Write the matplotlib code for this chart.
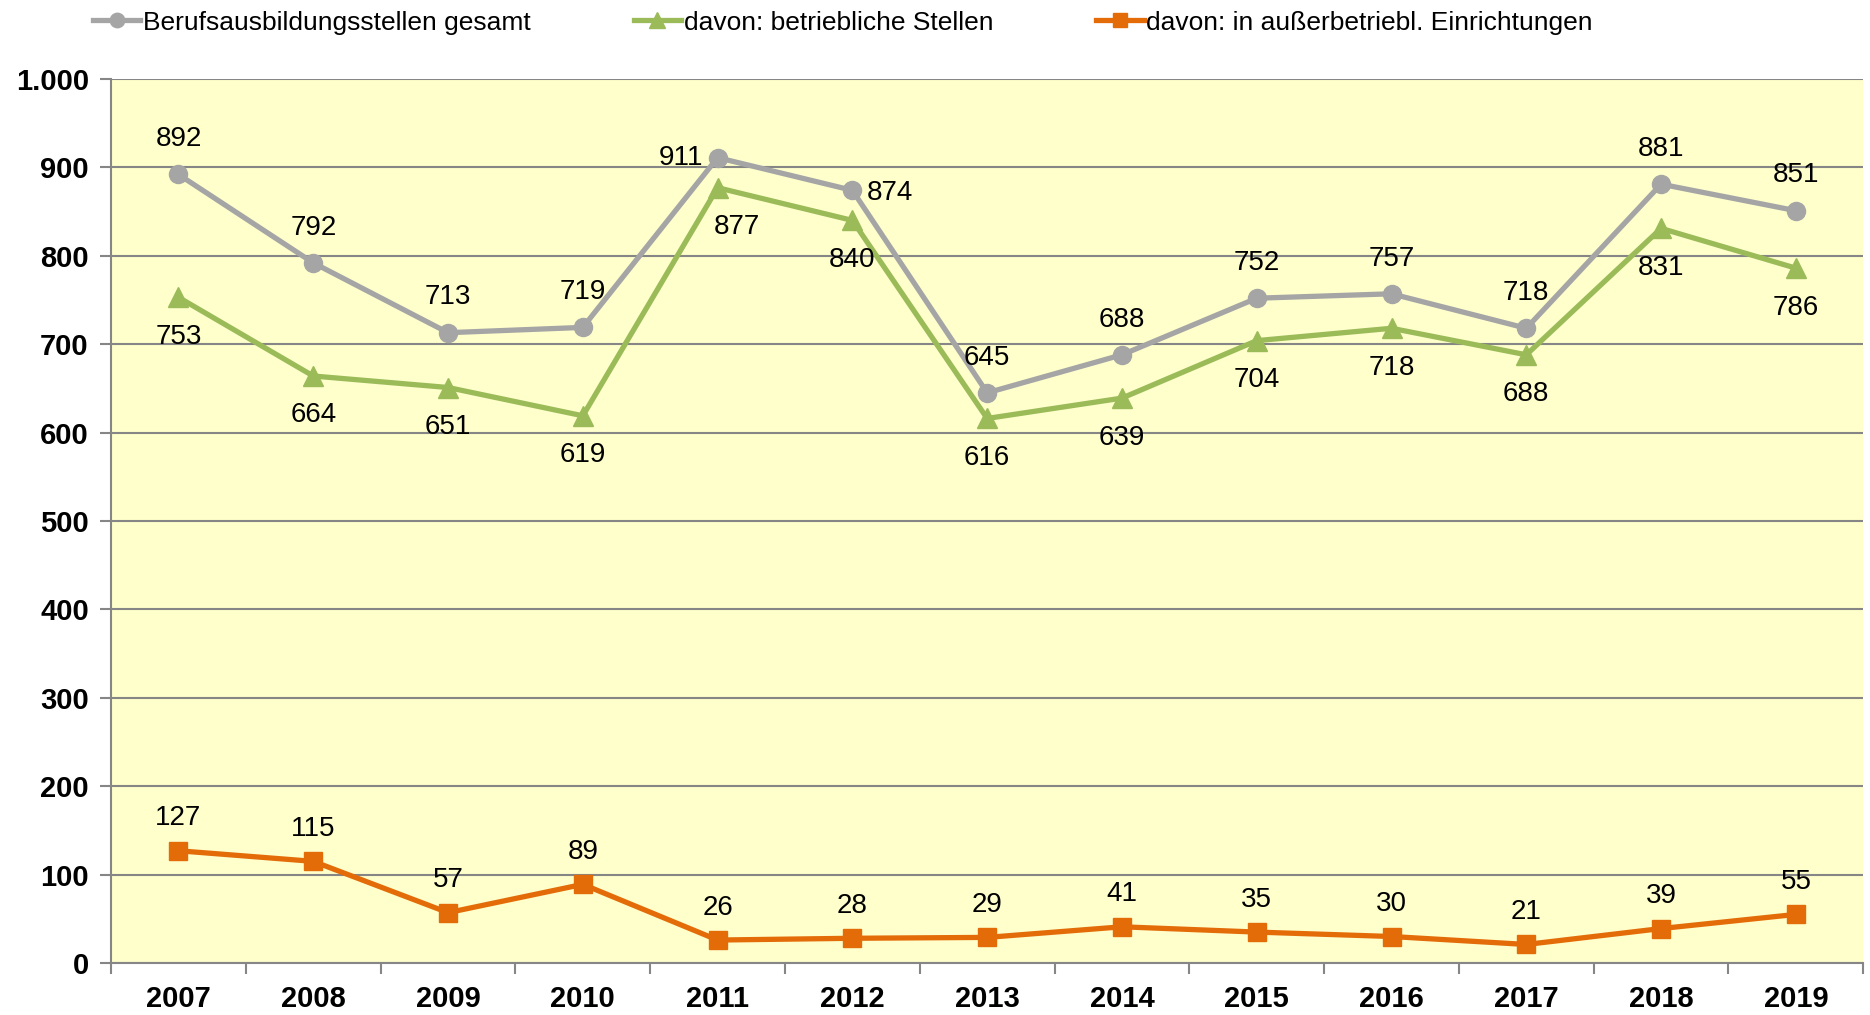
import matplotlib.pyplot as plt
from matplotlib.ticker import FuncFormatter

plt.rcParams['font.family'] = ['Liberation Sans', 'DejaVu Sans']

jahre = ["2007", "2008", "2009", "2010", "2011", "2012", "2013",
         "2014", "2015", "2016", "2017", "2018", "2019"]
gesamt = [892, 792, 713, 719, 911, 874, 645, 688, 752, 757, 718, 881, 851]
betrieblich = [753, 664, 651, 619, 877, 840, 616, 639, 704, 718, 688, 831, 786]
ausserbetrieblich = [127, 115, 57, 89, 26, 28, 29, 41, 35, 30, 21, 39, 55]

namen = ["Berufsausbildungsstellen gesamt",
         "davon: betriebliche Stellen",
         "davon: in außerbetriebl. Einrichtungen"]

fig = plt.figure(figsize=(18.7, 10.15), dpi=100)
ax = fig.add_axes([0.0594, 0.0512, 0.937, 0.871])
ax.set_facecolor("#FFFFCC")

x = list(range(len(jahre)))
ax.plot(x, gesamt, color="#A5A5A5", lw=3.8, marker="o", ms=13, label=namen[0], zorder=3)
ax.plot(x, betrieblich, color="#9BBB59", lw=3.8, marker="^", ms=14, label=namen[1], zorder=3)
ax.plot(x, ausserbetrieblich, color="#E36C09", lw=3.8, marker="s", ms=13, label=namen[2], zorder=3)

# Beschriftungen
for i, v in enumerate(gesamt):
    if jahre[i] == "2011":
        off, ha, va = (-10, 0), "right", "center"
    elif jahre[i] == "2012":
        off, ha, va = (10, -2), "left", "center"
    else:
        off, ha, va = (0, 16), "center", "bottom"
    ax.annotate(str(v), (i, v), xytext=off, textcoords="offset points",
                ha=ha, va=va, fontsize=20)
for i, v in enumerate(betrieblich):
    off = (14, -19) if jahre[i] == "2011" else (0, -19)
    ax.annotate(str(v), (i, v), xytext=off, textcoords="offset points",
                ha="center", va="top", fontsize=20)
for i, v in enumerate(ausserbetrieblich):
    ax.annotate(str(v), (i, v), xytext=(0, 14), textcoords="offset points",
                ha="center", va="bottom", fontsize=20)

ax.set_xlim(-0.5, len(jahre) - 0.5)
ax.set_ylim(0, 1000)
ax.set_yticks(range(0, 1001, 100))
ax.yaxis.set_major_formatter(FuncFormatter(lambda v, p: f"{int(v):,}".replace(",", ".")))
ax.set_xticks(x)
ax.set_xticklabels(jahre, fontweight="bold", fontsize=21)
ax.set_xticks([i + 0.5 for i in range(-1, len(jahre))], minor=True)
ax.tick_params(axis="x", which="major", length=0, pad=16)
ax.tick_params(axis="x", which="minor", length=8, color="#868686", width=1.5, direction="out")
ax.tick_params(axis="y", length=8, color="#868686", width=1.5, labelsize=21, pad=8)
for t in ax.get_yticklabels():
    t.set_fontweight("bold")

ax.grid(axis="y", color="#868686", lw=1.5, zorder=1)
ax.set_axisbelow(True)
for s in ["top", "right"]:
    ax.spines[s].set_visible(False)
for s in ["left", "bottom"]:
    ax.spines[s].set_color("#868686")
    ax.spines[s].set_linewidth(1.5)

fig.legend(loc="upper left", bbox_to_anchor=(0.037, 1.013), ncol=3, frameon=False,
           fontsize=19, handlelength=1.8, handletextpad=0.1, columnspacing=3.9,
           markerscale=0.8)

fig.savefig("out.png", dpi=100)
